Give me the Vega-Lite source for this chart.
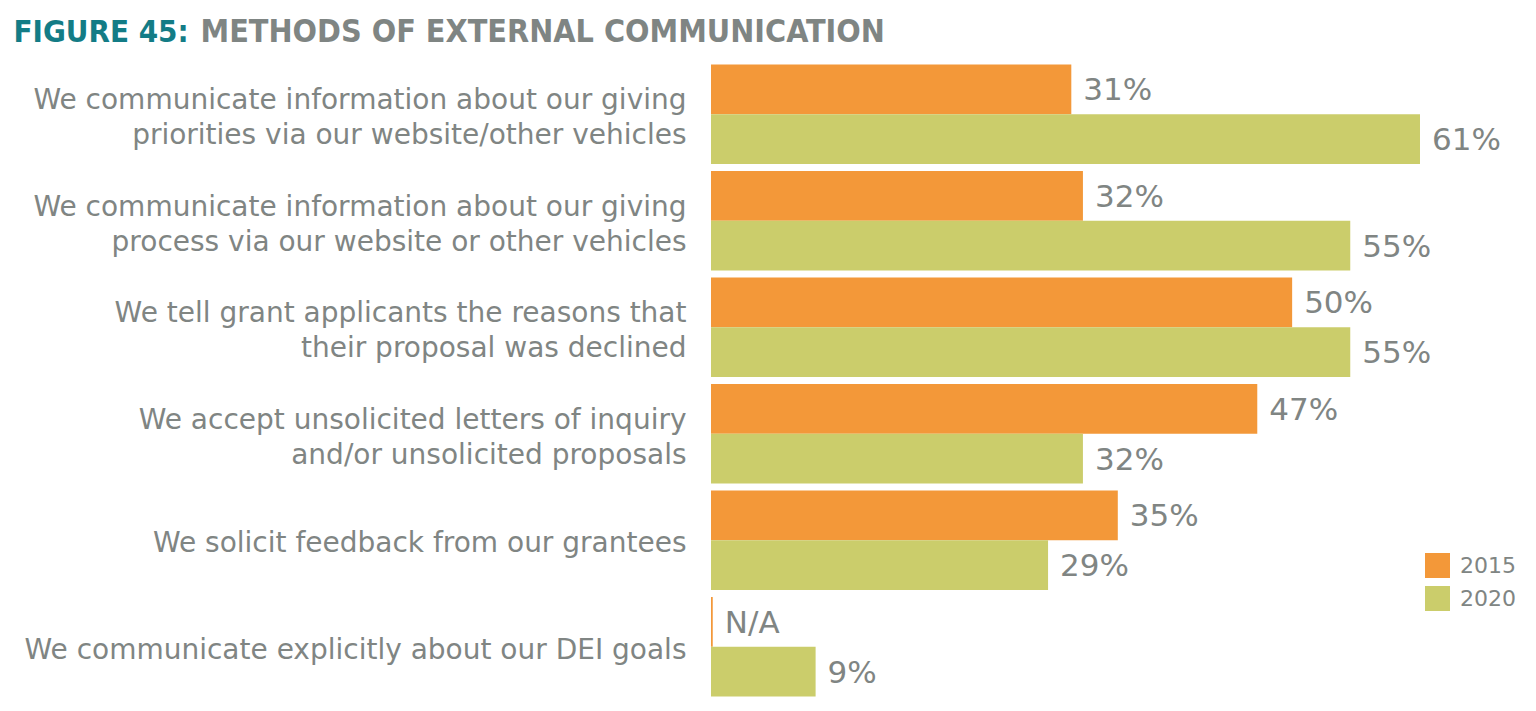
{
  "$schema": "https://vega.github.io/schema/vega-lite/v6.json",
  "width": 800,
  "height": 639,
  "autosize": {"type": "none"},
  "padding": {"left": 711, "top": 61, "right": 25, "bottom": 11},
  "background": "white",
  "data": {
    "values": [
      {"cat": "We communicate information about our giving|priorities via our website/other vehicles", "year": "2015", "value": 31, "label": "31%"},
      {"cat": "We communicate information about our giving|priorities via our website/other vehicles", "year": "2020", "value": 61, "label": "61%"},
      {"cat": "We communicate information about our giving|process via our website or other vehicles", "year": "2015", "value": 32, "label": "32%"},
      {"cat": "We communicate information about our giving|process via our website or other vehicles", "year": "2020", "value": 55, "label": "55%"},
      {"cat": "We tell grant applicants the reasons that|their proposal was declined", "year": "2015", "value": 50, "label": "50%"},
      {"cat": "We tell grant applicants the reasons that|their proposal was declined", "year": "2020", "value": 55, "label": "55%"},
      {"cat": "We accept unsolicited letters of inquiry|and/or unsolicited proposals", "year": "2015", "value": 47, "label": "47%"},
      {"cat": "We accept unsolicited letters of inquiry|and/or unsolicited proposals", "year": "2020", "value": 32, "label": "32%"},
      {"cat": "We solicit feedback from our grantees", "year": "2015", "value": 35, "label": "35%"},
      {"cat": "We solicit feedback from our grantees", "year": "2020", "value": 29, "label": "29%"},
      {"cat": "We communicate explicitly about our DEI goals", "year": "2015", "value": 0.15, "label": "N/A"},
      {"cat": "We communicate explicitly about our DEI goals", "year": "2020", "value": 9, "label": "9%"}
    ]
  },
  "encoding": {
    "y": {
      "field": "cat",
      "type": "nominal",
      "sort": null,
      "scale": {"paddingInner": 0.066, "paddingOuter": 0.033},
      "axis": {
        "title": "FIGURE 45:",
        "titleAngle": 0,
        "titleAlign": "left",
        "titleBaseline": "alphabetic",
        "titleX": -698,
        "titleY": -20,
        "titleFont": "DejaVu Sans Condensed",
        "titleFontSize": 31,
        "titleFontWeight": "bold",
        "titleColor": "#137c86",
        "domain": false,
        "ticks": false,
        "labelPadding": 25,
        "labelFont": "DejaVu Sans",
        "labelFontSize": 28,
        "labelColor": "#808583",
        "labelLimit": 0,
        "labelLineHeight": 35,
        "labelOffset": {"condition": {"test": "indexof(datum.value, '|') >= 0", "value": -13}, "value": 4},
        "labelExpr": "split(datum.label, '|')"
      }
    },
    "yOffset": {"field": "year", "type": "nominal", "scale": {"paddingInner": 0, "paddingOuter": 0}},
    "x": {
      "field": "value",
      "type": "quantitative",
      "scale": {"domain": [0, 68.83], "nice": false},
      "axis": {
        "orient": "top",
        "labels": false,
        "ticks": false,
        "domain": false,
        "grid": false,
        "title": "METHODS OF EXTERNAL COMMUNICATION",
        "titleAnchor": null,
        "titleAlign": "left",
        "titleBaseline": "alphabetic",
        "titleAngle": 0,
        "titleX": -511,
        "titleY": -20,
        "titleFont": "DejaVu Sans Condensed",
        "titleFontSize": 32,
        "titleFontWeight": "bold",
        "titleColor": "#7f8583"
      }
    }
  },
  "layer": [
    {
      "mark": {"type": "bar"},
      "encoding": {
        "color": {
          "field": "year",
          "type": "nominal",
          "scale": {"domain": ["2015", "2020"], "range": ["#F39839", "#CBCD6B"]},
          "legend": {
            "orient": "none",
            "legendX": 714,
            "legendY": 492,
            "title": null,
            "padding": 0,
            "symbolType": "square",
            "symbolSize": 625,
            "symbolStrokeWidth": 0,
            "labelFont": "DejaVu Sans",
            "labelFontSize": 22,
            "labelColor": "#808583",
            "labelOffset": 10,
            "rowPadding": 8
          }
        }
      }
    },
    {
      "mark": {"type": "text", "align": "left", "baseline": "middle", "dx": 12, "dy": 2, "font": "DejaVu Sans", "fontSize": 31, "color": "#808583"},
      "encoding": {"text": {"field": "label"}}
    }
  ],
  "config": {"view": {"stroke": null}}
}
